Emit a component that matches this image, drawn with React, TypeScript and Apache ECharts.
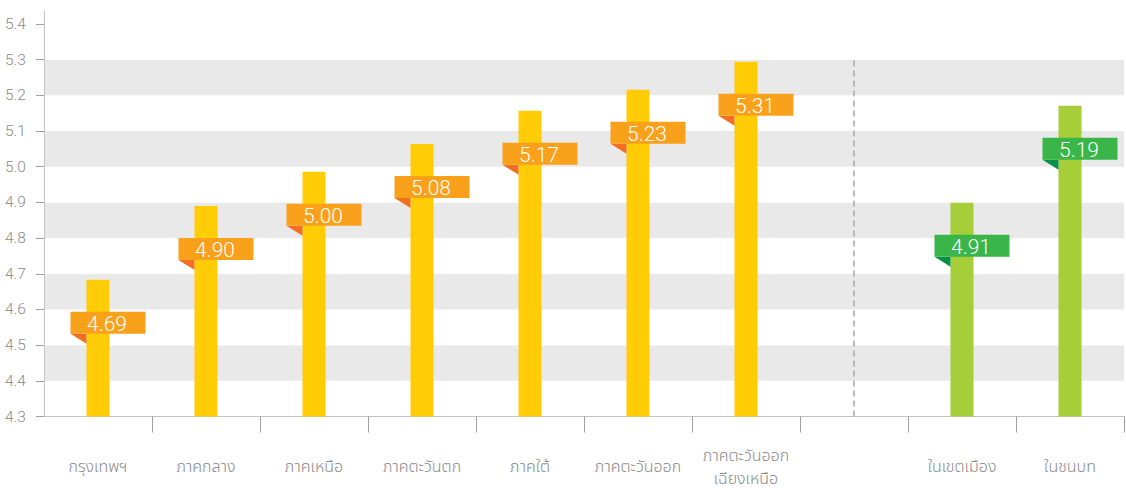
import React, { useEffect, useRef } from "react";
import * as echarts from "echarts";

const categories = [
  "กรุงเทพฯ",
  "ภาคกลาง",
  "ภาคเหนือ",
  "ภาคตะวันตก",
  "ภาคใต้",
  "ภาคตะวันออก",
  "ภาคตะวันออก\nเฉียงเหนือ",
  "",
  "ในเขตเมือง",
  "ในชนบท",
];
// bar heights as drawn in the picture
const barValues = [4.683, 4.89, 4.986, 5.064, 5.157, 5.216, 5.294, null, 4.899, 5.171];
// value labels printed on the flags
const labelTexts = ["4.69", "4.90", "5.00", "5.08", "5.17", "5.23", "5.31", "", "4.91", "5.19"];
// 0 = region (yellow / orange), 1 = urban-rural (green)
const groups = [0, 0, 0, 0, 0, 0, 0, -1, 1, 1];
const yTicks = { min: 4.3, max: 5.4, interval: 0.1 };
const dividerIndex = 7;

const BAR_COLORS = ["#FFCC05", "#A6CE39"];
const FLAG_COLORS = ["#F9A11B", "#39B54A"];
const FOLD_COLORS = ["#F26F21", "#0A8F47"];
const TEXT_GRAY = "#8a8a8a";
const FONT = '"Helvetica Neue", Roboto, "Noto Sans", "Noto Sans Thai", sans-serif';

export default function App() {
  const ref = useRef<HTMLDivElement>(null);
  useEffect(() => {
    if (!ref.current) return;
    const chart = echarts.init(ref.current, null, { renderer: "svg" });
    const barData = barValues.map((v, i) =>
      v == null
        ? null
        : { value: v, itemStyle: { color: BAR_COLORS[groups[i]] } }
    );
    const flagData = barValues
      .map((v, i) => (v == null ? null : [i, v, labelTexts[i], groups[i]]))
      .filter((d) => d != null);

    chart.setOption({
      animation: false,
      grid: { left: 44, right: 2, top: 24, bottom: 74.5 },
      graphic: [
        {
          type: "line",
          shape: { x1: 44.5, y1: 10, x2: 44.5, y2: 24 },
          style: { stroke: "#c4c4c4", lineWidth: 1 },
        },
      ],
      xAxis: {
        type: "category",
        data: categories,
        boundaryGap: true,
        axisLine: { show: true, lineStyle: { color: "#c4c4c4", width: 1 } },
        axisTick: {
          show: true,
          length: 16,
          interval: (i: number) => i !== 0,
          lineStyle: { color: "#a0a0a0", width: 1 },
        },
        axisLabel: {
          interval: 0,
          margin: 50,
          verticalAlign: "middle",
          color: TEXT_GRAY,
          fontSize: 16,
          lineHeight: 23,
          fontFamily: FONT,
          fontWeight: 300,
        },
        splitLine: { show: false },
      },
      yAxis: {
        type: "value",
        min: yTicks.min,
        max: yTicks.max,
        interval: yTicks.interval,
        axisLine: { show: true, lineStyle: { color: "#c4c4c4", width: 1 } },
        axisTick: { show: true, length: 8, lineStyle: { color: "#a0a0a0" } },
        axisLabel: {
          align: "left",
          margin: 39,
          color: TEXT_GRAY,
          fontSize: 15.5,
          fontFamily: FONT,
          fontWeight: 300,
          formatter: (v: number) => v.toFixed(1),
        },
        splitLine: { show: false },
        splitArea: {
          show: true,
          areaStyle: { color: ["#ffffff", "#e9e9e9"] },
        },
      },
      series: [
        {
          type: "bar",
          data: barData,
          barWidth: 23,
          z: 2,
          markLine: {
            silent: true,
            symbol: ["none", "none"],
            label: { show: false },
            lineStyle: { color: "#a8a8a8", type: [6, 4], width: 1.5 },
            data: [
              [
                { coord: [dividerIndex, yTicks.min] },
                { coord: [dividerIndex, 5.3] },
              ],
            ],
          },
        },
        {
          type: "custom",
          z: 5,
          data: flagData,
          renderItem: (params: any, api: any) => {
            const pt = api.coord([api.value(0), api.value(1)]);
            const g = api.value(3) as number;
            const text = labelTexts[api.value(0) as number];
            const x0 = pt[0] - 27.5;
            const y0 = pt[1] + 32;
            const w = 75;
            const h = 22;
            return {
              type: "group",
              children: [
                {
                  type: "polygon",
                  shape: {
                    points: [
                      [x0, y0 + h],
                      [x0 + 16, y0 + h],
                      [x0 + 16, y0 + h + 10],
                    ],
                  },
                  style: { fill: FOLD_COLORS[g] },
                },
                {
                  type: "rect",
                  shape: { x: x0, y: y0, width: w, height: h },
                  style: { fill: FLAG_COLORS[g] },
                },
                {
                  type: "text",
                  style: {
                    x: x0 + w / 2 - 1,
                    y: y0 + h / 2 + 1,
                    text,
                    fill: "#ffffff",
                    fontSize: 21,
                    fontFamily: FONT,
                    fontWeight: 300,
                    align: "center",
                    verticalAlign: "middle",
                  },
                },
              ],
            };
          },
        },
      ],
    });
    return () => chart.dispose();
  }, []);
  return (
    <div
      ref={ref}
      style={{ position: "absolute", left: 0, top: 0, width: 1126, height: 491 }}
    />
  );
}
